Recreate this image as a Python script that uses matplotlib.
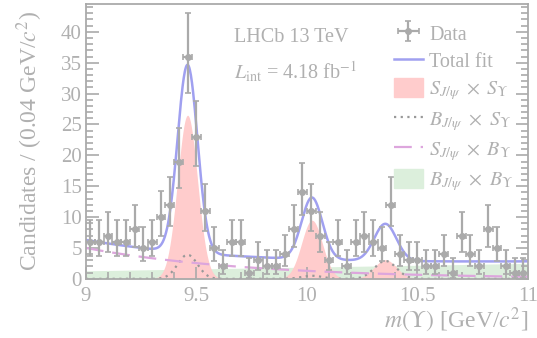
import numpy as np
import matplotlib
matplotlib.use('Agg')
import matplotlib.pyplot as plt
from matplotlib.ticker import MultipleLocator
from matplotlib.patches import Patch
from matplotlib.lines import Line2D

plt.rcParams['font.family'] = ['Liberation Serif', 'DejaVu Serif']
plt.rcParams['mathtext.fontset'] = 'stix'

# m(Upsilon) bins, 0.04 GeV wide, from 9 to 11 GeV
bin_centres = np.arange(9.02, 11.0, 0.04)
counts = [6, 6, 7, 6, 6, 8, 5, 6, 10, 12,
          19, 36, 23, 11, 5, 2, 6, 6, 1, 3,
          2, 2, 4, 8, 14, 11, 7, 3, 6, 2,
          6, 7, 6, 5, 12, 4, 3, 3, 2, 2,
          4, 1, 7, 4, 2, 8, 5, 2, 1, 1]

# fit components: Upsilon(1S,2S,3S) peaks
peak_mass = [9.46, 10.023, 10.355]
peak_sigma = [0.045, 0.047, 0.05]
sig_sig_height = [26.5, 9.5, 3.1]    # S_J/psi x S_Upsilon
bkg_sig_height = [3.9, 0.5, 2.9]     # B_J/psi x S_Upsilon
# S_J/psi x B_Upsilon: exponential, B_J/psi x B_Upsilon: linear
sb_norm, sb_slope = 5.0, 1.35
bb_norm, bb_slope = 1.3, 0.6

grey = '#aaaaaa'
text_col = '#b0b0b0'

m = np.linspace(9, 11, 801)


def peaks(heights):
    y = np.zeros_like(m)
    for h, mu, s in zip(heights, peak_mass, peak_sigma):
        y += h * np.exp(-0.5 * ((m - mu) / s) ** 2)
    return y


ss = peaks(sig_sig_height)
bs = peaks(bkg_sig_height)
sb = sb_norm * np.exp(-sb_slope * (m - 9))
bb = bb_norm + bb_slope * (m - 9)
total = ss + bs + sb + bb

n = np.array(counts, dtype=float)
err_hi = np.sqrt(n + 0.75) + 1
err_lo = n - n * (1 - 1 / (9 * n) - 1 / (3 * np.sqrt(n))) ** 3

fig = plt.figure(figsize=(5.37, 3.38), dpi=100)
ax = fig.add_axes([0.160, 0.175, 0.823, 0.813])

ax.fill_between(m, 0, bb, color='#dcefdc', lw=0)
ax.fill_between(m, 0, ss, color='#ffcccc', lw=0)
ax.plot(m, bs, color='#999999', ls=(0, (1, 2)), lw=1.6)
ax.plot(m, sb, color='#dda6dd', ls=(0, (8, 4)), lw=1.6)
ax.plot(m, total, color='#a0a0f0', lw=1.8)
ax.errorbar(bin_centres, n, yerr=[err_lo, err_hi], xerr=0.02, fmt='o',
            color=grey, ms=4, elinewidth=1.6, capsize=2.5, capthick=1.2)

ax.set_xlim(9, 11)
ax.set_ylim(0, 44.5)
ax.xaxis.set_major_locator(MultipleLocator(0.5))
ax.xaxis.set_minor_locator(MultipleLocator(0.1))
ax.yaxis.set_major_locator(MultipleLocator(5))
ax.yaxis.set_minor_locator(MultipleLocator(1))
ax.set_xticks([9, 9.5, 10, 10.5, 11])
ax.set_xticklabels(['9', '9.5', '10', '10.5', '11'])
ax.tick_params(which='both', direction='in', right=True, colors=grey,
               labelcolor=text_col, labelsize=15, width=1.2)
ax.tick_params(which='major', length=9)
ax.tick_params(which='minor', length=5)
ax.tick_params(axis='x', which='major', pad=6)
ax.tick_params(axis='y', which='major', pad=3)
for sp in ax.spines.values():
    sp.set_color(grey)
    sp.set_linewidth(1.3)

ax.set_ylabel('Candidates / (0.04 GeV/$c^{2}$)', fontsize=17,
              color=text_col, labelpad=11)
ax.set_xlabel(r'$m(\Upsilon)$ [GeV/$c^{2}$]', fontsize=17,
              color=text_col, loc='right', labelpad=0)

ax.text(0.335, 0.88, 'LHCb 13 TeV', transform=ax.transAxes,
        fontsize=14.5, color=text_col, va='center')
ax.text(0.335, 0.753, r'$L_{\rm int}$ = 4.18 fb$^{-1}$',
        transform=ax.transAxes, fontsize=14.5, color=text_col, va='center')

handles = [
    ax.containers[0],
    Line2D([], [], color='#a0a0f0', lw=1.8),
    Patch(color='#ffcccc'),
    Line2D([], [], color='#999999', ls=(0, (1, 2)), lw=1.6),
    Line2D([], [], color='#dda6dd', ls=(0, (8, 4)), lw=1.6),
    Patch(color='#dcefdc'),
]
labels = ['Data', 'Total fit',
          r'$S_{J/\psi}\ \times\ S_{\Upsilon}$',
          r'$B_{J/\psi}\ \times\ S_{\Upsilon}$',
          r'$S_{J/\psi}\ \times\ B_{\Upsilon}$',
          r'$B_{J/\psi}\ \times\ B_{\Upsilon}$']
leg = ax.legend(handles, labels, loc='upper right', frameon=False,
                fontsize=14.5, handlelength=1.45, handleheight=1.1,
                handletextpad=0.3, labelspacing=0.3,
                bbox_to_anchor=(0.995, 0.975), borderaxespad=0.2)
for t in leg.get_texts():
    t.set_color(text_col)

fig.savefig('out.png', dpi=100)
